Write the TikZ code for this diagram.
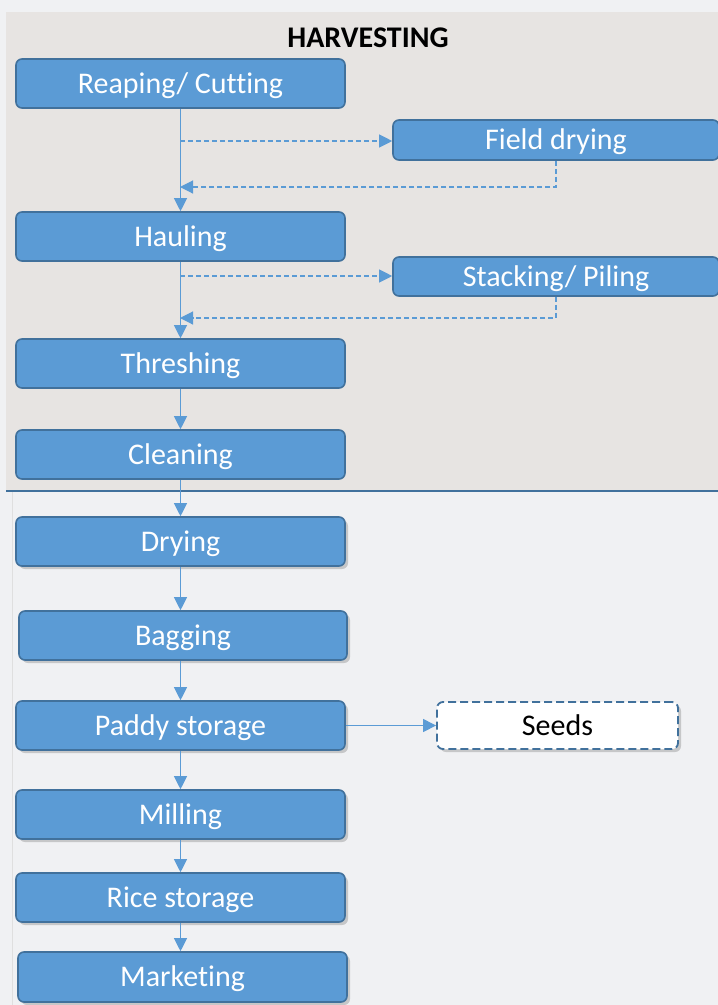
\documentclass[tikz,border=0pt]{standalone}
\usepackage{fontspec}
\setmainfont{Carlito}[Ligatures=CommonOff]
\usetikzlibrary{arrows.meta,shadows}
\definecolor{bgout}{HTML}{F0F1F3}
\definecolor{bgpanel}{HTML}{E7E4E2}
\definecolor{boxfill}{HTML}{5B9BD5}
\definecolor{boxline}{HTML}{41719C}
\definecolor{arrowc}{HTML}{5B9BD5}
\tikzset{
  stepbox/.style={draw=boxline, line width=1.6pt, fill=boxfill, rounded corners=6pt,
    text=white, font=\fontsize{30}{34}\selectfont, inner sep=0pt, text height=22pt, text depth=3pt},
  shadowed/.style={drop shadow={shadow xshift=3pt, shadow yshift=-3pt, opacity=0.3, fill=black!60}},
  flow/.style={draw=arrowc, line width=1.1pt, -{Triangle[length=13pt,width=13pt]}},
  dflow/.style={flow, dash pattern=on 5pt off 3pt},
}
\begin{document}
\begin{tikzpicture}[x=1pt,y=-1pt]
\fill[bgout] (0,0) rectangle (718,1005);
\useasboundingbox (0,0) rectangle (718,1005);
\fill[bgpanel] (6,12) rectangle (718,491);
\draw[boxline, line width=2pt] (6,491) -- (718,491);
\draw[gray!25, line width=0.8pt] (12,492) -- (12,1005);
\node[font=\bfseries\fontsize{30}{34}\selectfont] (title) at (368,38) {HARVESTING};

\node[stepbox, minimum width=329pt, minimum height=49pt] (reap) at (180.5,83.5) {Reaping/ Cutting};
\node[stepbox, minimum width=326pt, minimum height=40pt] (fd) at (556,140) {Field drying};
\node[stepbox, minimum width=329pt, minimum height=49pt] (haul) at (180.5,236.5) {Hauling};
\node[stepbox, minimum width=326pt, minimum height=39pt] (stack) at (556,276.5) {Stacking/ Piling};
\node[stepbox, minimum width=329pt, minimum height=49pt] (thresh) at (180.5,363.5) {Threshing};
\node[stepbox, minimum width=329pt, minimum height=49pt] (clean) at (180.5,454.5) {Cleaning};

\node[stepbox, shadowed, minimum width=329pt, minimum height=49pt] (dry) at (180.5,541.5) {Drying};
\node[stepbox, shadowed, minimum width=328pt, minimum height=49pt] (bag) at (183,635.5) {Bagging};
\node[stepbox, shadowed, minimum width=329pt, minimum height=49pt] (paddy) at (180.5,725.5) {Paddy storage};
\node[stepbox, shadowed, fill=white, text=black, dash pattern=on 8pt off 4pt, line width=1.8pt,
  minimum width=241pt, minimum height=47pt] (seeds) at (557.5,725.5) {Seeds};
\node[stepbox, shadowed, minimum width=329pt, minimum height=49pt] (mill) at (180.5,814.5) {Milling};
\node[stepbox, shadowed, minimum width=329pt, minimum height=49pt] (rice) at (180.5,897.5) {Rice storage};
\node[stepbox, shadowed, minimum width=329pt, minimum height=50pt] (mark) at (182.5,977) {Marketing};

\coordinate (t1) at (180,141);
\coordinate (r1) at (180,187);
\coordinate (t2) at (180,276);
\coordinate (r2) at (180,318);

\draw[flow] (reap.south) -- (haul.north);
\draw[dflow] (t1) -- (t1 -| fd.west);
\draw[dflow] (fd.south) |- (r1);
\draw[flow] (haul.south) -- (thresh.north);
\draw[dflow] (t2) -- (t2 -| stack.west);
\draw[dflow] (stack.south) |- (r2);
\draw[flow] (thresh.south) -- (clean.north);
\draw[flow] (clean.south) -- (clean.south |- dry.north);
\draw[flow] (dry.south) -- (dry.south |- bag.north);
\draw[flow] (bag.south -| paddy.south) -- (paddy.north);
\draw[flow] (paddy.south) -- (mill.north);
\draw[flow] (mill.south) -- (rice.north);
\draw[flow] (rice.south) -- (rice.south |- mark.north);
\draw[flow] (paddy.east) -- (seeds.west);
\end{tikzpicture}
\end{document}
